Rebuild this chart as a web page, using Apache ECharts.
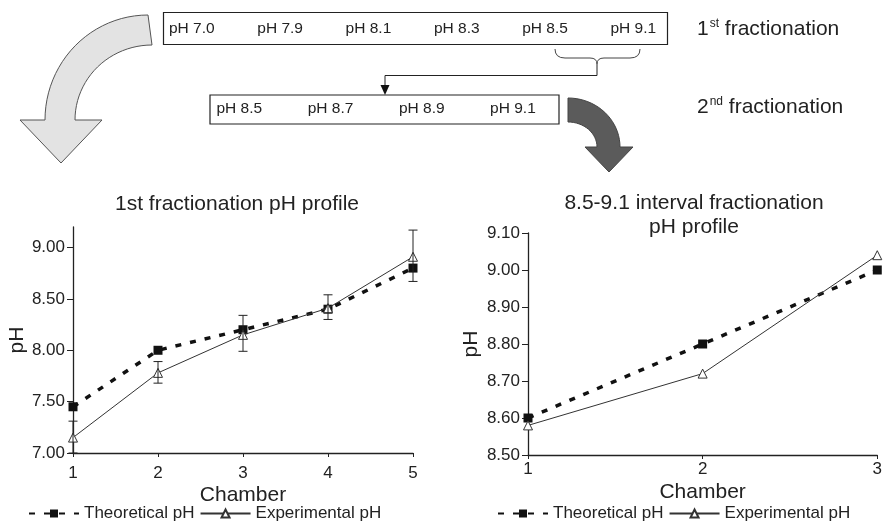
<!DOCTYPE html>
<html>
<head>
<meta charset="utf-8">
<script src="https://cdn.jsdelivr.net/npm/echarts@6/dist/echarts.min.js"></script>
<style>
  html, body { margin: 0; padding: 0; background: #fff; }
  #main { width: 885px; height: 523px; }
</style>
</head>
<body>
<div id="main"></div>
<script>
// 1st fractionation (5 chambers)
const chambers1 = [1, 2, 3, 4, 5];
const theoretical1 = [7.45, 8.0, 8.2, 8.4, 8.8];
const experimental1 = [7.15, 7.78, 8.15, 8.41, 8.91];
const errLow1 = [7.0, 7.68, 7.99, 8.30, 8.67];
const errHigh1 = [7.31, 7.89, 8.34, 8.54, 9.17];
const yTicks1 = [7.0, 7.5, 8.0, 8.5, 9.0];

// 8.5-9.1 interval fractionation (3 chambers)
const chambers2 = [1, 2, 3];
const theoretical2 = [8.6, 8.8, 9.0];
const experimental2 = [8.58, 8.72, 9.04];

// diagram labels
const stage1Labels = ['pH 7.0', 'pH 7.9', 'pH 8.1', 'pH 8.3', 'pH 8.5', 'pH 9.1'];
const stage2Labels = ['pH 8.5', 'pH 8.7', 'pH 8.9', 'pH 9.1'];

const FONT = '"Liberation Sans", Arial, sans-serif';
const chart = echarts.init(document.getElementById('main'));

function pair(xs, ys) {
  return xs.map((x, i) => [x, ys[i]]);
}

// points along an elliptical arc (angles in degrees, screen coords)
function arc(cx, cy, rx, ry, a0, a1, n) {
  const pts = [];
  for (let i = 0; i <= n; i++) {
    const a = (a0 + (a1 - a0) * i / n) * Math.PI / 180;
    pts.push([cx + rx * Math.cos(a), cy + ry * Math.sin(a)]);
  }
  return pts;
}

function errorBars(params, api) {
  const x = api.value(0);
  const lo = api.coord([x, api.value(1)]);
  const hi = api.coord([x, api.value(2)]);
  const w = 4.5;
  const st = { stroke: '#222', lineWidth: 1 };
  return {
    type: 'group',
    children: [
      { type: 'line', shape: { x1: lo[0], y1: lo[1], x2: hi[0], y2: hi[1] }, style: st },
      { type: 'line', shape: { x1: hi[0] - w, y1: hi[1], x2: hi[0] + w, y2: hi[1] }, style: st },
      { type: 'line', shape: { x1: lo[0] - w, y1: lo[1], x2: lo[0] + w, y2: lo[1] }, style: st }
    ]
  };
}

function xAxis(idx, max, gap, margin) {
  return {
    type: 'value', gridIndex: idx, min: 1, max: max, interval: 1,
    name: 'Chamber', nameLocation: 'middle', nameGap: gap,
    nameTextStyle: { fontSize: 21, color: '#222' },
    axisLine: { lineStyle: { color: '#222', width: 1.3 } },
    axisTick: { length: 4, lineStyle: { color: '#222' } },
    axisLabel: { fontSize: 17, color: '#222', margin: margin },
    splitLine: { show: false }
  };
}

function yAxisBase(idx, gap) {
  return {
    type: 'value', gridIndex: idx,
    name: 'pH', nameLocation: 'middle', nameGap: gap,
    nameTextStyle: { fontSize: 21, color: '#222' },
    axisLine: { show: true, lineStyle: { color: '#222', width: 1.3 } },
    axisTick: { show: true, length: 6, lineStyle: { color: '#222' } },
    axisLabel: { fontSize: 17, color: '#222', margin: 8, formatter: v => v.toFixed(2) },
    splitLine: { show: false }
  };
}

const theoStyle = {
  type: 'line', symbol: 'rect', symbolSize: 9,
  itemStyle: { color: '#111' },
  lineStyle: { color: '#111', width: 3.5, type: [6, 9] },
  z: 3
};
const expStyle = {
  type: 'line', symbol: 'triangle', symbolSize: 9,
  itemStyle: { color: '#fff', borderColor: '#333', borderWidth: 1 },
  lineStyle: { color: '#333', width: 1 },
  z: 4
};

function box(x, y, w, h) {
  return { type: 'rect', shape: { x: x, y: y, width: w, height: h },
    style: { fill: '#fff', stroke: '#222', lineWidth: 1.2 } };
}
function label(text, x, y, size) {
  return { type: 'text', x: x, y: y,
    style: { text: text, font: size + 'px ' + FONT, fill: '#222', verticalAlign: 'middle' } };
}
function supLabel(num, sup, rest, x, y) {
  return { type: 'text', x: x, y: y,
    style: {
      text: '{a|' + num + '}{s|' + sup + '}{a| ' + rest + '}',
      verticalAlign: 'middle',
      rich: {
        a: { fontFamily: FONT, fontSize: 21, fill: '#222', lineHeight: 24, verticalAlign: 'bottom' },
        s: { fontFamily: FONT, fontSize: 12, fill: '#222', lineHeight: 24, verticalAlign: 'top', padding: [2, 0, 0, 1] }
      }
    } };
}

// curved arrows as polygons
const lightArrow = []
  .concat(arc(148, 120, 103, 105, -90, -180, 24))
  .concat([[20, 120], [61, 163], [102, 120]])
  .concat(arc(152, 120, 77, 75, 180, 270, 24));
const darkArrow = []
  .concat(arc(568, 147, 52, 49, -90, 0, 20))
  .concat([[633, 147], [609, 172], [585, 147]])
  .concat(arc(568, 147, 29, 25, 0, -90, 16));

const braceStyle = { fill: null, stroke: '#444', lineWidth: 1 };
const graphics = [
  { type: 'polygon', shape: { points: lightArrow }, style: { fill: '#e3e3e3', stroke: '#555', lineWidth: 1 } },
  { type: 'polygon', shape: { points: darkArrow }, style: { fill: '#5b5b5b', stroke: '#444', lineWidth: 1 } },
  box(163.5, 12.5, 504, 32),
  box(210, 95, 349, 29),
  // brace
  { type: 'bezierCurve', shape: { x1: 555, y1: 49, x2: 565, y2: 58, cpx1: 555, cpy1: 58 }, style: braceStyle },
  { type: 'line', shape: { x1: 565, y1: 58, x2: 590, y2: 58 }, style: braceStyle },
  { type: 'bezierCurve', shape: { x1: 590, y1: 58, x2: 597, y2: 64, cpx1: 597, cpy1: 58 }, style: braceStyle },
  { type: 'bezierCurve', shape: { x1: 597, y1: 64, x2: 604, y2: 58, cpx1: 597, cpy1: 58 }, style: braceStyle },
  { type: 'line', shape: { x1: 604, y1: 58, x2: 630, y2: 58 }, style: braceStyle },
  { type: 'bezierCurve', shape: { x1: 630, y1: 58, x2: 640, y2: 49, cpx1: 640, cpy1: 58 }, style: braceStyle },
  // connector
  { type: 'polyline', shape: { points: [[597, 64], [597, 75.5], [385, 75.5], [385, 86]] },
    style: { fill: null, stroke: '#222', lineWidth: 1 } },
  { type: 'polygon', shape: { points: [[380.5, 85], [389.5, 85], [385, 95]] }, style: { fill: '#111' } },
  supLabel('1', 'st', 'fractionation', 697, 28),
  supLabel('2', 'nd', 'fractionation', 697, 106)
];
stage1Labels.forEach((t, i) => graphics.push(label(t, 169 + i * 88.3, 29, 15.5)));
stage2Labels.forEach((t, i) => graphics.push(label(t, 216.5 + i * 91.2, 108.5, 15.5)));

const legendBase = {
  data: ['Theoretical pH', 'Experimental pH'], top: 505, padding: 0,
  itemWidth: 50, itemHeight: 10, itemGap: 5,
  textStyle: { fontSize: 17, color: '#222' }
};

const option = {
  animation: false,
  backgroundColor: '#fff',
  textStyle: { fontFamily: FONT },
  title: [
    { text: '1st fractionation pH profile', left: 232, top: 189, textAlign: 'center',
      textStyle: { fontSize: 21, fontWeight: 'normal', color: '#222' } },
    { text: '8.5-9.1 interval fractionation\npH profile', left: 689, top: 186, textAlign: 'center',
      textStyle: { fontSize: 21, fontWeight: 'normal', color: '#222', lineHeight: 24 } }
  ],
  legend: [
    Object.assign({ left: 28 }, legendBase),
    Object.assign({ left: 497 }, legendBase)
  ],
  grid: [
    { left: 73, top: 227, width: 340, height: 226 },
    { left: 528, top: 233, width: 350, height: 222 }
  ],
  xAxis: [xAxis(0, 5, 32, 12), xAxis(1, 3, 27, 6)],
  yAxis: [
    Object.assign(yAxisBase(0, 40), { min: 7, max: 9.2,
      axisLabel: { fontSize: 17, color: '#222', margin: 8, formatter: v => v.toFixed(2), customValues: yTicks1 },
      axisTick: { show: true, length: 6, lineStyle: { color: '#222' }, customValues: yTicks1 } }),
    Object.assign(yAxisBase(1, 46), { min: 8.5, max: 9.1, interval: 0.1 })
  ],
  series: [
    Object.assign({ name: 'Theoretical pH', xAxisIndex: 0, yAxisIndex: 0, data: pair(chambers1, theoretical1) }, theoStyle),
    { type: 'custom', name: 'err', xAxisIndex: 0, yAxisIndex: 0, renderItem: errorBars,
      encode: { x: 0, y: [1, 2] }, z: 5,
      data: chambers1.map((c, i) => [c, errLow1[i], errHigh1[i]]) },
    Object.assign({ name: 'Experimental pH', xAxisIndex: 0, yAxisIndex: 0, data: pair(chambers1, experimental1) }, expStyle),
    Object.assign({ name: 'Theoretical pH', xAxisIndex: 1, yAxisIndex: 1, data: pair(chambers2, theoretical2) }, theoStyle),
    Object.assign({ name: 'Experimental pH', xAxisIndex: 1, yAxisIndex: 1, data: pair(chambers2, experimental2) }, expStyle)
  ],
  graphic: graphics
};

chart.setOption(option);
</script>
</body>
</html>
